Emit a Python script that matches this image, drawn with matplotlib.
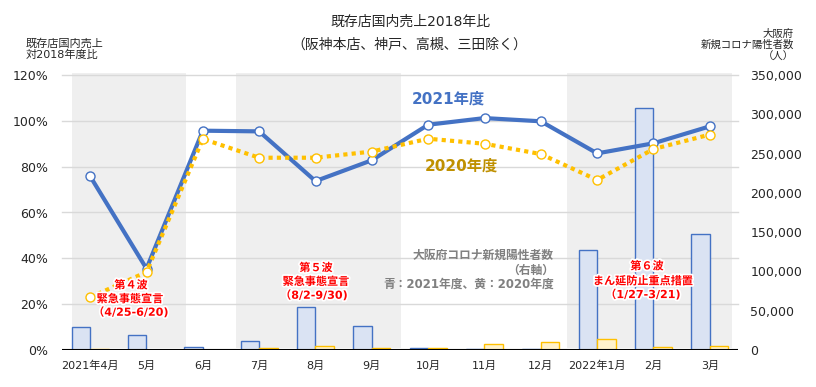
import matplotlib
matplotlib.use("Agg")
import matplotlib.pyplot as plt
import matplotlib.patheffects as pe
import numpy as np

plt.rcParams['font.family'] = ['DejaVu Sans', 'Noto Sans CJK JP']

months = ['2021年4月', '5月', '6月', '7月', '8月', '9月', '10月', '11月', '12月',
          '2022年1月', '2月', '3月']
sales_2021 = [0.758, 0.355, 0.957, 0.954, 0.737, 0.828, 0.983, 1.012, 0.998, 0.858, 0.902, 0.976]
sales_2020 = [0.230, 0.340, 0.921, 0.839, 0.839, 0.866, 0.922, 0.900, 0.855, 0.742, 0.877, 0.940]
covid_2021 = [28900, 18700, 3400, 11000, 54300, 30200, 2100, 1200, 1000, 126900, 308400, 147300]
covid_2020 = [1200, 300, 100, 2500, 5000, 2300, 2000, 7200, 9800, 13600, 3400, 4700]
pct_ticks = [0, 0.2, 0.4, 0.6, 0.8, 1.0, 1.2]
pct_labels = ['0%', '20%', '40%', '60%', '80%', '100%', '120%']
count_ticks = [0, 50000, 100000, 150000, 200000, 250000, 300000, 350000]
bands = [(-0.32, 1.70), (2.59, 5.52), (8.46, 11.39)]

W, H = 816, 387
fig = plt.figure(figsize=(W / 100, H / 100), dpi=100)
def P(x, y):
    return (x / W, 1 - y / H)

L, R, T, B = 62, 738, 75, 350
ax = fig.add_axes([L / W, 1 - B / H, (R - L) / W, (B - T) / H])
ax2 = ax.twinx()
ax.set_zorder(ax2.get_zorder() + 1)
ax.patch.set_visible(False)

x = np.arange(len(months))

# bands
for a, b in bands:
    ax2.axvspan(a, b, ymin=(B - 347.7) / (B - T), ymax=(B - 73) / (B - T),
                color='#EFEFEF', zorder=0, lw=0, clip_on=False)
# gridlines
for t in pct_ticks[1:]:
    ax2.plot([0, 1], [t / 1.2, t / 1.2], transform=ax2.transAxes, color='#D9D9D9',
             lw=1.0, zorder=1, clip_on=False)

bw = 0.33
ax2.bar(x - bw / 2, covid_2021, width=bw, color='#DAE3F3', edgecolor='#4472C4', lw=1.0, zorder=2)
ax2.bar(x + bw / 2, covid_2020, width=bw, color='#FFF2CC', edgecolor='#FFC000', lw=1.0, zorder=2)
ax2.set_ylim(0, 350000)
ax2.set_yticks(count_ticks)
ax2.set_yticklabels([f'{v:,}' for v in count_ticks])
ax2.tick_params(axis='y', length=0, pad=9, labelsize=9, labelcolor='#262626')

ax.plot(x, sales_2021, color='#4472C4', lw=3, marker='o', ms=6.5, mfc='white',
        mec='#4472C4', mew=1.0, zorder=3)
ax.plot(x, sales_2020, color='#FFC000', lw=3, ls=(0, (1, 1)), marker='o', ms=6.5,
        mfc='white', mec='#FFC000', mew=1.0, zorder=4)
ax.axhline(0, color='black', lw=1.5, zorder=5)

ax.set_xlim(-0.5, len(months) - 0.5)
ax.set_ylim(0, 1.2)
ax.set_yticks(pct_ticks)
ax.set_yticklabels(pct_labels)
ax.tick_params(axis='y', length=0, pad=10, labelsize=9, labelcolor='#262626')
ax.set_xticks(x)
ax.set_xticklabels(months)
ax.tick_params(axis='x', length=0, pad=7.5, labelsize=8, labelcolor='#262626')
ax2.tick_params(axis='x', length=0, labelbottom=False)

for a in (ax, ax2):
    for s in a.spines.values():
        s.set_visible(False)

# titles and axis labels
fig.text(*P(410, 22), '既存店国内売上2018年比', ha='center', va='center', fontsize=10, color='#262626')
fig.text(*P(409, 45), '（阪神本店、神戸、高槻、三田除く）', ha='center', va='center', fontsize=10, color='#262626')
fig.text(*P(26, 49), '既存店国内売上\n対2018年度比', ha='left', va='center', fontsize=8,
         linespacing=1.15, color='#262626')
fig.text(*P(794, 45), '大阪府\n新規コロナ陽性者数\n（人）', ha='right', va='center', ma='right',
         fontsize=7.5, linespacing=1.15, color='#262626')

fig.text(*P(412, 99), '2021年度', ha='left', va='center', fontsize=11, fontweight='bold', color='#4472C4')
fig.text(*P(425, 166), '2020年度', ha='left', va='center', fontsize=11, fontweight='bold', color='#BF9000')

gray = '#808080'
fig.text(*P(554, 255), '大阪府コロナ新規陽性者数', ha='right', va='center', fontsize=8.5, fontweight='bold', color=gray)
fig.text(*P(554, 270.7), '（右軸）', ha='right', va='center', fontsize=8.5, fontweight='bold', color=gray)
fig.text(*P(554, 284.3), '青：2021年度、黄：2020年度', ha='right', va='center', fontsize=8.5, fontweight='bold', color=gray)

stroke = [pe.withStroke(linewidth=2.5, foreground='white')]
red_texts = [
    ('第４波', 131, 285), ('緊急事態宣言', 130, 299), ('（4/25-6/20)', 131, 312),
    ('第５波', 316, 267.7), ('緊急事態宣言', 316, 281.7), ('（8/2-9/30)', 314, 295),
    ('第６波', 647, 266), ('まん延防止重点措置', 643, 281), ('（1/27-3/21)', 643, 294.3),
]
for s, px, py in red_texts:
    fig.text(*P(px, py), s, ha='center', va='center', fontsize=8, fontweight='bold',
             color='#FF0000', path_effects=stroke)

fig.savefig('out.png', dpi=100)
